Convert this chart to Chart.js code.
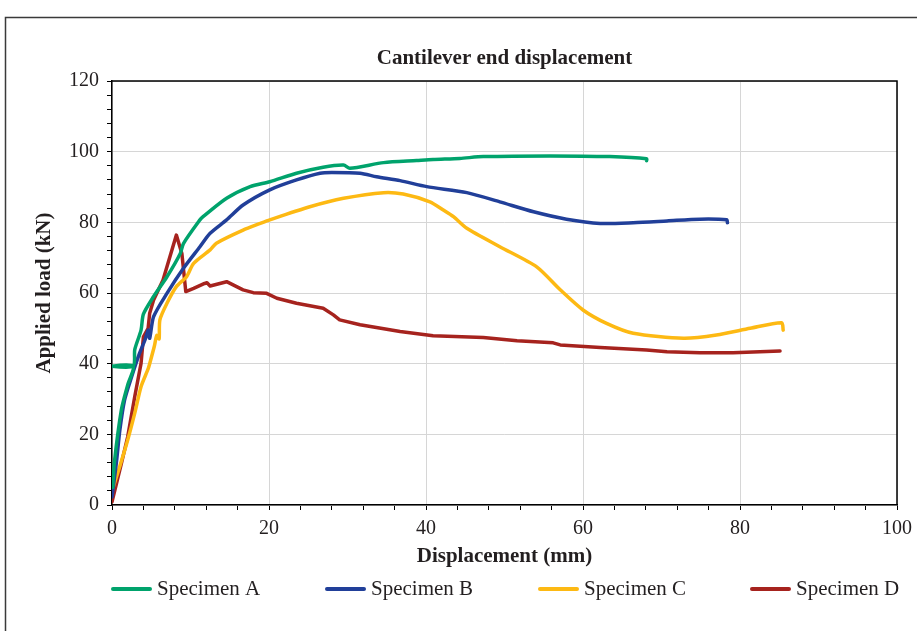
<!DOCTYPE html>
<html>
<head>
<meta charset="utf-8">
<script src="https://cdn.jsdelivr.net/npm/chart.js@4.4.1/dist/chart.umd.min.js"></script>
<style>
  html, body { margin: 0; padding: 0; background: #fff; }
  #wrap { position: relative; width: 917px; height: 631px; }
</style>
</head>
<body>
<div id="wrap"><canvas id="loadChart" width="917" height="631"></canvas></div>
<script>
// values (displacement in mm, load in kN)
const chartTitle = 'Cantilever end displacement'
const seriesNames = ['Specimen A', 'Specimen B', 'Specimen C', 'Specimen D']
const seriesColors = ['#00a36c', '#213f99', '#fdb913', '#a6231e']

const dispA = [0.1, 0.3, 1.2, 2.0, 2.7, 0, 2.7, 2.9, 3.7, 4.0, 5.3, 7.0, 8.7, 9.1, 11.2, 11.6, 14.6, 17.6, 20.1, 23.5, 26.9, 29.5, 30.3, 34.6, 38.8, 40.9, 44.3, 47.3, 55.8, 63.4, 68.1, 68.1]
const loadA = [5, 12, 27, 34, 39.3, 39.3, 39.3, 44, 49.5, 54, 59, 64.6, 71.2, 74, 80.7, 81.6, 86.8, 90.1, 91.5, 93.9, 95.6, 96.2, 95.3, 96.9, 97.5, 97.8, 98.1, 98.6, 98.8, 98.6, 98.0, 97.4]

const dispB = [0, 0.55, 1.0, 1.6, 2.5, 3.5, 4.2, 4.6, 4.8, 5.3, 7.0, 9.1, 11.2, 12.5, 14.6, 16.7, 20.1, 23.5, 26.5, 28, 31.6, 33.7, 36.7, 40.1, 45.2, 49.4, 53.7, 57.9, 62.2, 66.4, 70.7, 74.9, 78.3, 78.4]
const loadB = [2.3, 11.8, 21.2, 29.7, 36.3, 42.9, 46.7, 49.5, 47.2, 53.3, 59.9, 67, 73.1, 76.9, 80.7, 84.9, 89.2, 92, 93.9, 94.1, 93.9, 92.9, 91.8, 90.1, 88.4, 85.8, 83, 80.9, 79.7, 79.9, 80.4, 80.9, 80.7, 79.9]

const dispC = [0, 1.0, 2.0, 2.9, 3.7, 4.6, 4.8, 5.4, 5.7, 6.0, 6.1, 7.0, 8.2, 9.5, 10.4, 12.5, 13.3, 16.7, 18.9, 20.1, 25.2, 29.5, 34.6, 37.1, 40.5, 42.2, 43.5, 45.2, 49.4, 54.1, 57.1, 60.0, 63, 66.4, 72.8, 77, 81.3, 85.3, 85.5]
const loadC = [4, 11, 18.4, 26, 33.5, 38.5, 40, 45, 48, 47, 52.4, 57.1, 61.8, 64.6, 68.4, 72.2, 74.1, 77.8, 79.7, 80.7, 84.4, 86.8, 88.4, 88, 85.8, 83.5, 81.6, 78.3, 73.1, 67.4, 60.9, 55.2, 51.4, 48.6, 47.2, 48.1, 50, 51.6, 49.5]

const dispD = [0, 1.2, 2.0, 2.9, 3.7, 4.0, 4.6, 4.8, 5.3, 6.5, 8.2, 8.9, 9.4, 10.4, 11.8, 12.1, 12.5, 14.6, 16.7, 18.0, 19.7, 21, 23.5, 26.9, 28.2, 29, 31.6, 36.7, 40.9, 47.3, 51.6, 56.2, 57.1, 62.2, 68.1, 70.7, 74.9, 79.1, 85.1]
const loadD = [0.9, 11.8, 19.3, 30.7, 40.1, 47.6, 50, 54.3, 58, 63.7, 76.4, 71.2, 60.4, 61.3, 62.7, 62.9, 62, 63.2, 60.9, 60.1, 59.9, 58.5, 57.1, 55.7, 53.8, 52.4, 51, 49.1, 47.9, 47.4, 46.5, 45.9, 45.3, 44.6, 43.9, 43.4, 43.1, 43.1, 43.6]

const xTicks = { min: 0, max: 100, minor: 4, major: 20 }
const yTicks = { min: 0, max: 120, minor: 4, major: 20 }

const dispAll = [dispA, dispB, dispC, dispD]
const loadAll = [loadA, loadB, loadC, loadD]

const serif = "'Liberation Serif', 'DejaVu Serif', serif"
const ink = '#231f20'

const toPoints = (xs, ys) => xs.map((x, i) => ({ x: x, y: ys[i] }))

// frame around the figure, title, box round the plot, and the legend row
const decorations = {
    id: 'decorations',
    beforeDraw(chart) {
        const c = chart.ctx
        c.save()
        c.fillStyle = '#fff'
        c.fillRect(0, 0, chart.width, chart.height)
        c.strokeStyle = '#3a3a3a'
        c.lineWidth = 1.5
        c.beginPath()
        c.moveTo(5.5, chart.height)
        c.lineTo(5.5, 17.5)
        c.lineTo(chart.width, 17.5)
        c.stroke()
        c.restore()
    },
    afterDraw(chart) {
        const c = chart.ctx
        const a = chart.chartArea
        c.save()
        c.strokeStyle = '#000'
        c.lineWidth = 1.5
        c.beginPath()
        c.moveTo(a.left, a.top)
        c.lineTo(a.right, a.top)
        c.lineTo(a.right, a.bottom)
        c.stroke()

        c.fillStyle = ink
        c.font = 'bold 21px ' + serif
        c.textAlign = 'center'
        c.textBaseline = 'middle'
        c.fillText(chartTitle, (a.left + a.right) / 2, 59)

        const legendX = [113, 327, 540, 752]
        const legendY = 589
        c.font = '21px ' + serif
        c.textAlign = 'left'
        chart.data.datasets.forEach((ds, i) => {
            c.strokeStyle = ds.borderColor
            c.lineWidth = 4
            c.lineCap = 'round'
            c.beginPath()
            c.moveTo(legendX[i], legendY)
            c.lineTo(legendX[i] + 37, legendY)
            c.stroke()
            c.fillText(ds.label, legendX[i] + 44, legendY)
        })
        c.restore()
    }
}

const gridColor = (step) => (ctx) => (ctx.tick && ctx.tick.value % step === 0) ? '#d6d6d6' : 'rgba(0,0,0,0)'

const ctx = document.getElementById('loadChart').getContext('2d')
const loadChart = new Chart(ctx, {
    type: 'line',
    data: {
        datasets: seriesNames.map((name, i) => ({
            label: name,
            data: toPoints(dispAll[i], loadAll[i]),
            borderColor: seriesColors[i],
            backgroundColor: seriesColors[i],
            borderWidth: 3.5,
            pointRadius: 0,
            tension: i === 3 ? 0 : 0.25,
            borderJoinStyle: 'round',
            borderCapStyle: 'round',
            fill: false
        }))
    },
    options: {
        responsive: false,
        animation: false,
        layout: { padding: { top: 81, right: 20, bottom: 0, left: 0 } },
        plugins: {
            legend: { display: false },
            tooltip: { enabled: false },
            title: { display: false }
        },
        scales: {
            x: {
                type: 'linear',
                min: xTicks.min,
                max: xTicks.max,
                afterFit: (scale) => {
                    scale.height = 126
                    scale.paddingLeft = 0
                    scale.paddingRight = 0
                },
                border: { color: '#000', width: 1.5 },
                grid: { color: gridColor(xTicks.major), tickColor: '#000', tickLength: 5, lineWidth: 1 },
                ticks: {
                    stepSize: xTicks.minor,
                    autoSkip: false,
                    maxRotation: 0,
                    padding: 7,
                    color: ink,
                    font: { family: serif, size: 20 },
                    callback: (v) => v % xTicks.major === 0 ? v : ''
                },
                title: {
                    display: true,
                    text: 'Displacement (mm)',
                    color: ink,
                    font: { family: serif, size: 21, weight: 'bold', lineHeight: 1.2 },
                    padding: { bottom: 61.4 }
                }
            },
            y: {
                type: 'linear',
                min: yTicks.min,
                max: yTicks.max,
                afterFit: (scale) => {
                    scale.width = 112
                    scale.paddingTop = 0
                    scale.paddingBottom = 0
                },
                border: { color: '#000', width: 1.5 },
                grid: { color: gridColor(yTicks.major), tickColor: '#000', tickLength: 5, lineWidth: 1 },
                ticks: {
                    stepSize: yTicks.minor,
                    autoSkip: false,
                    padding: 8,
                    color: ink,
                    font: { family: serif, size: 20 },
                    callback: (v) => v % yTicks.major === 0 ? v : ''
                },
                title: {
                    display: true,
                    text: 'Applied load (kN)',
                    color: ink,
                    font: { family: serif, size: 21, weight: 'bold', lineHeight: 1.2 },
                    padding: { top: 32.4 }
                }
            }
        }
    },
    plugins: [decorations]
})
</script>
</body>
</html>
